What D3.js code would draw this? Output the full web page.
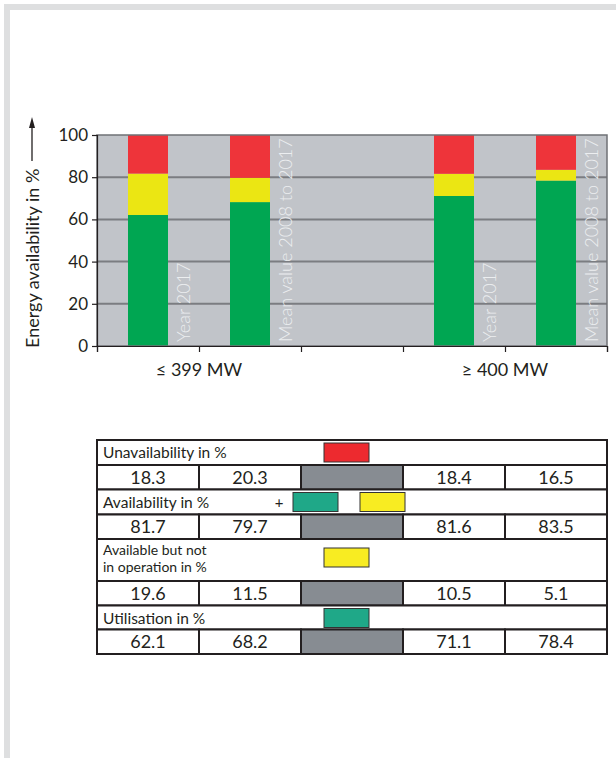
<!DOCTYPE html>
<html>
<head>
<meta charset="utf-8">
<script src="https://cdn.jsdelivr.net/npm/d3@7"></script>
<style>
  body { margin: 0; background: #fff; }
  svg { display: block; font-family: "Lato", "Noto Sans", sans-serif; }
</style>
</head>
<body>
<div class="chart"></div>
<script>
// columns of the chart (the middle one is an empty gap)
var columns = ["small2017", "smallMean", "gap", "large2017", "largeMean"];
var barLabels = ["Year 2017", "Mean value 2008 to 2017", "", "Year 2017", "Mean value 2008 to 2017"];
var groupLabels = ["\u2264 399 MW", "\u2265 400 MW"];
var groupEdges = [1, 4];

var utilisation = [62.1, 68.2, null, 71.1, 78.4];
var notOperating = [19.6, 11.5, null, 10.5, 5.1];
var availability = [81.7, 79.7, null, 81.6, 83.5];
var unavailability = [18.3, 20.3, null, 18.4, 16.5];

var yTicks = [0, 20, 40, 60, 80, 100];
var yTitle = "Energy availability in %";

var rowLabels = [["Unavailability in %"], ["Availability in %"], ["Available but not", "in operation in %"], ["Utilisation in %"]];
var rowValues = [unavailability, availability, notOperating, utilisation];
var rowSwatches = [["red"], ["teal", "yellow"], ["yellow"], ["teal"]];

function init() {
  var w = 616;
  var h = 758;
  var left = 97, right = 607, top = 135, bottom = 346;

  var barColors = { util: "#00a652", notOp: "#ebe613", unavail: "#ee343a" };
  var swatchColors = { red: "#ed2a2f", teal: "#1fa888", yellow: "#f8ec22" };
  var ink = "#231f20";

  var svg = d3.select(".chart")
    .append("svg")
    .attr("width", w)
    .attr("height", h);

  // page frame
  svg.append("rect").attr("x", 4).attr("y", 4).attr("width", w - 4).attr("height", 6).attr("fill", "#dedfe0");
  svg.append("rect").attr("x", 4).attr("y", 4).attr("width", 6).attr("height", h - 4).attr("fill", "#dedfe0");

  var xScale = d3.scaleBand()
    .domain(columns)
    .range([left, right])
    .padding(0);

  var xEdge = d3.scaleLinear()
    .domain([0, columns.length])
    .range([left, right]);

  var yScale = d3.scaleLinear()
    .domain([0, 100])
    .range([bottom, top]);

  var barW = 40;
  var bw = xScale.bandwidth();

  // plot background
  svg.append("rect")
    .attr("x", left).attr("y", top)
    .attr("width", right - left).attr("height", bottom - top)
    .attr("fill", "#c1c4c9");

  svg.append("g")
    .selectAll("line")
    .data(yTicks.filter(function(d) { return d > 0 && d < 100; }))
    .enter().append("line")
    .attr("x1", left).attr("x2", right)
    .attr("y1", function(d) { return yScale(d); })
    .attr("y2", function(d) { return yScale(d); })
    .attr("stroke", "#7b7d81")
    .attr("stroke-width", 2);

  // stacked bars
  var rows = columns.map(function(c, i) {
    return { col: c, util: utilisation[i], notOp: notOperating[i], unavail: unavailability[i] };
  }).filter(function(d) { return d.util != null; });

  var stack = d3.stack().keys(["util", "notOp", "unavail"]);
  var series = stack(rows);

  svg.append("g")
    .selectAll("g")
    .data(series)
    .enter().append("g")
    .attr("fill", function(d) { return barColors[d.key]; })
    .selectAll("rect")
    .data(function(d) { return d; })
    .enter().append("rect")
    .attr("x", function(d) { return xScale(d.data.col) + (bw - barW) / 2; })
    .attr("y", function(d) { return yScale(Math.min(100, d[1])); })
    .attr("width", barW)
    .attr("height", function(d) { return yScale(d[0]) - yScale(Math.min(100, d[1])); });

  // rotated labels next to bars
  svg.append("g")
    .selectAll("text")
    .data(columns.filter(function(c, i) { return barLabels[i] !== ""; }))
    .enter().append("text")
    .attr("transform", function(c) {
      var x = xScale(c) + (bw + barW) / 2 + 22;
      return "translate(" + x + "," + (bottom - 4) + ") rotate(-90)";
    })
    .attr("fill", "#eceef0")
    .attr("font-size", "18px")
    .attr("font-weight", 300)
    .text(function(c) { return barLabels[columns.indexOf(c)]; });

  // frame of plot
  svg.append("rect")
    .attr("x", left).attr("y", top)
    .attr("width", right - left).attr("height", bottom - top)
    .attr("fill", "none")
    .attr("stroke", "#6f7175")
    .attr("stroke-width", 1.5);

  var yAxis = d3.axisLeft(yScale)
    .tickValues(yTicks)
    .tickSize(5)
    .tickPadding(4);

  var gy = svg.append("g")
    .attr("transform", "translate(" + left + ",0)")
    .call(yAxis);
  gy.selectAll("text").attr("font-size", "17px").attr("fill", ink).attr("font-family", "Lato");
  gy.selectAll("line, path").attr("stroke", ink).attr("stroke-width", 1.2);

  var xAxis = d3.axisBottom(xEdge)
    .ticks(columns.length)
    .tickSize(6)
    .tickFormat("");

  var gx = svg.append("g")
    .attr("transform", "translate(0," + bottom + ")")
    .call(xAxis);
  gx.selectAll("line, path").attr("stroke", ink).attr("stroke-width", 1.2);

  svg.append("g")
    .selectAll("text")
    .data(groupLabels)
    .enter().append("text")
    .attr("x", function(d, i) { return xEdge(groupEdges[i]); })
    .attr("y", 376)
    .attr("text-anchor", "middle")
    .attr("font-size", "18px")
    .attr("fill", ink)
    .text(function(d) { return d; });

  // y title with arrow
  svg.append("text")
    .attr("transform", "translate(39,348) rotate(-90)")
    .attr("font-size", "18px")
    .attr("fill", ink)
    .text(yTitle);

  svg.append("line")
    .attr("x1", 32).attr("x2", 32)
    .attr("y1", 126).attr("y2", 161)
    .attr("stroke", ink).attr("stroke-width", 1.3);
  svg.append("path")
    .attr("d", "M32,117 L35,128 L29,128 Z")
    .attr("fill", ink);

  // table
  var tTop = 440;
  var headH = [25, 25, 42, 24];
  var valH = 24.5;
  var tab = svg.append("g");
  var yPos = tTop;

  rowLabels.forEach(function(lbl, r) {
    // header row
    tab.append("rect")
      .attr("x", left).attr("y", yPos)
      .attr("width", right - left).attr("height", headH[r])
      .attr("fill", "#fff").attr("stroke", ink).attr("stroke-width", 2);

    lbl.forEach(function(t, k) {
      tab.append("text")
        .attr("x", 103)
        .attr("y", lbl.length > 1 ? yPos + 16 + k * 17 : yPos + 18)
        .attr("font-size", lbl.length > 1 ? "14px" : "15.5px")
        .attr("fill", ink)
        .text(t);
    });

    var sw = rowSwatches[r];
    var swX = sw.length > 1 ? [xEdge(2) - 8, xEdge(2) + 59] : [xEdge(2) + 23];
    var swY = lbl.length > 1 ? yPos + 9 : yPos + 3;
    sw.forEach(function(s, k) {
      tab.append("rect")
        .attr("x", swX[k]).attr("y", swY)
        .attr("width", 45).attr("height", 19)
        .attr("fill", swatchColors[s])
        .attr("stroke", "#333").attr("stroke-width", 1);
    });
    if (sw.length > 1) {
      tab.append("text")
        .attr("x", xEdge(2) - 22).attr("y", yPos + 18)
        .attr("text-anchor", "middle")
        .attr("font-size", "15px").attr("fill", ink)
        .text("+");
    }
    yPos += headH[r];

    // value row
    var vals = rowValues[r];
    tab.append("g")
      .selectAll("rect")
      .data(columns)
      .enter().append("rect")
      .attr("x", function(c) { return xScale(c); })
      .attr("y", yPos)
      .attr("width", bw)
      .attr("height", valH)
      .attr("fill", function(c, i) { return vals[i] == null ? "#878c92" : "#fff"; })
      .attr("stroke", ink)
      .attr("stroke-width", 2);

    tab.append("g")
      .selectAll("text")
      .data(columns.filter(function(c, i) { return vals[i] != null; }))
      .enter().append("text")
      .attr("x", function(c) { return xScale(c) + bw / 2; })
      .attr("y", yPos + 18.5)
      .attr("text-anchor", "middle")
      .attr("font-size", "18px")
      .attr("fill", ink)
      .text(function(c) { return vals[columns.indexOf(c)].toFixed(1); });

    yPos += valH;
  });
}

window.onload = init;
</script>
</body>
</html>
